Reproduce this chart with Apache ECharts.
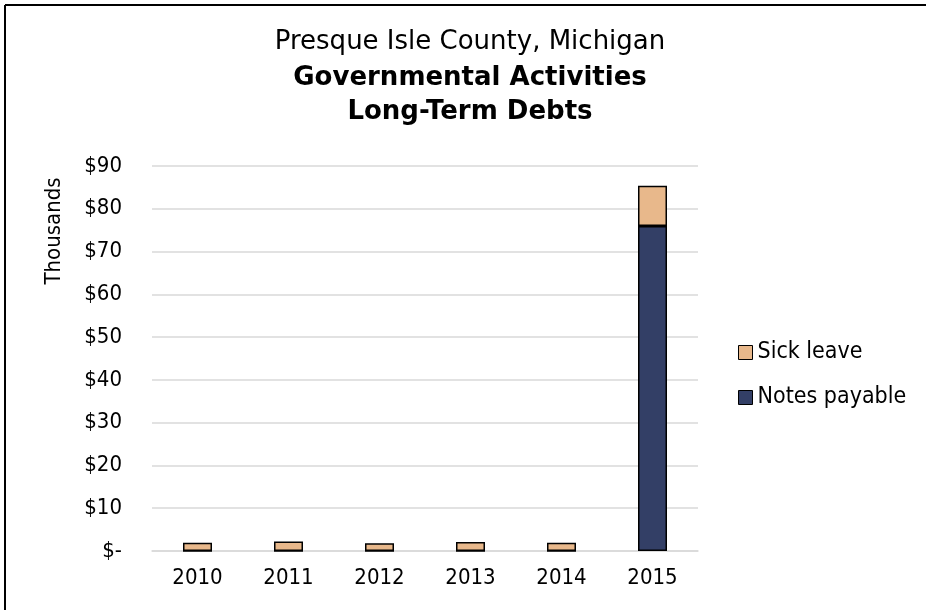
<!DOCTYPE html>
<html>
<head>
<meta charset="utf-8">
<script src="https://cdn.jsdelivr.net/npm/echarts@6/dist/echarts.min.js"></script>
<style>
html,body{margin:0;padding:0;background:#fff;}
#chart{width:926px;height:610px;}
</style>
</head>
<body>
<div id="chart"></div>
<script>
var categories = ['2010', '2011', '2012', '2013', '2014', '2015'];
var notesPayable = [0, 0, 0, 0, 0, 76.0];
var sickLeave = [1.9, 2.2, 1.8, 2.1, 1.9, 9.4];
var yTicks = { min: 0, max: 90, interval: 10 };
var titleLines = ['Presque Isle County, Michigan', 'Governmental Activities', 'Long-Term Debts'];
var yAxisTitle = 'Thousands';

var FONT = '"DejaVu Sans Condensed", "DejaVu Sans", sans-serif';
var TFONT = '"DejaVu Sans", sans-serif';
var chart = echarts.init(document.getElementById('chart'), null, { renderer: 'canvas' });

chart.setOption({
  animation: false,
  backgroundColor: '#fff',
  grid: { left: 152, right: 228, top: 166, bottom: 59, containLabel: false },
  legend: {
    data: ['Sick leave', 'Notes payable'],
    orient: 'vertical',
    left: 738,
    top: 341,
    padding: 0,
    itemWidth: 14,
    itemHeight: 14,
    itemGap: 22,
    icon: 'rect',
    itemStyle: { borderColor: '#000', borderWidth: 1 },
    textStyle: { fontFamily: FONT, fontSize: 23, color: '#000', lineHeight: 23 }
  },
  xAxis: {
    type: 'category',
    data: categories,
    axisLine: { show: true, lineStyle: { color: '#d9d9d9', width: 1.5 } },
    axisTick: { show: false },
    axisLabel: { fontFamily: FONT, fontSize: 22, color: '#000', margin: 16 }
  },
  yAxis: {
    type: 'value',
    min: yTicks.min,
    max: yTicks.max,
    interval: yTicks.interval,
    axisLine: { show: false },
    axisTick: { show: false },
    splitLine: { lineStyle: { color: '#d9d9d9', width: 1.5 } },
    axisLabel: {
      fontFamily: FONT, fontSize: 22, color: '#000', margin: 30,
      formatter: function (v) { return v === 0 ? '$-' : '$' + v; }
    }
  },
  series: [
    {
      name: 'Notes payable',
      type: 'bar',
      stack: 'debt',
      data: notesPayable,
      barWidth: 29,
      itemStyle: { color: '#333f66', borderColor: '#000', borderWidth: 1.5 }
    },
    {
      name: 'Sick leave',
      type: 'bar',
      stack: 'debt',
      data: sickLeave,
      barWidth: 29,
      itemStyle: { color: '#e8b88b', borderColor: '#000', borderWidth: 1.5 }
    }
  ],
  graphic: [
    { type: 'line', shape: { x1: 5, y1: 5, x2: 926, y2: 5 }, style: { stroke: '#000', lineWidth: 2 } },
    { type: 'line', shape: { x1: 5, y1: 5, x2: 5, y2: 610 }, style: { stroke: '#000', lineWidth: 2 } },
    { type: 'text', x: 470, y: 42, style: { text: titleLines[0], font: '26px ' + TFONT, fill: '#000', align: 'center', verticalAlign: 'middle' } },
    { type: 'text', x: 470, y: 78, style: { text: titleLines[1], font: 'bold 26px ' + TFONT, fill: '#000', align: 'center', verticalAlign: 'middle' } },
    { type: 'text', x: 470, y: 112, style: { text: titleLines[2], font: 'bold 26px ' + TFONT, fill: '#000', align: 'center', verticalAlign: 'middle' } },
    { type: 'text', x: 54, y: 231, rotation: Math.PI / 2, style: { text: yAxisTitle, font: '22px ' + FONT, fill: '#000', align: 'center', verticalAlign: 'middle' } }
  ]
});
</script>
</body>
</html>
